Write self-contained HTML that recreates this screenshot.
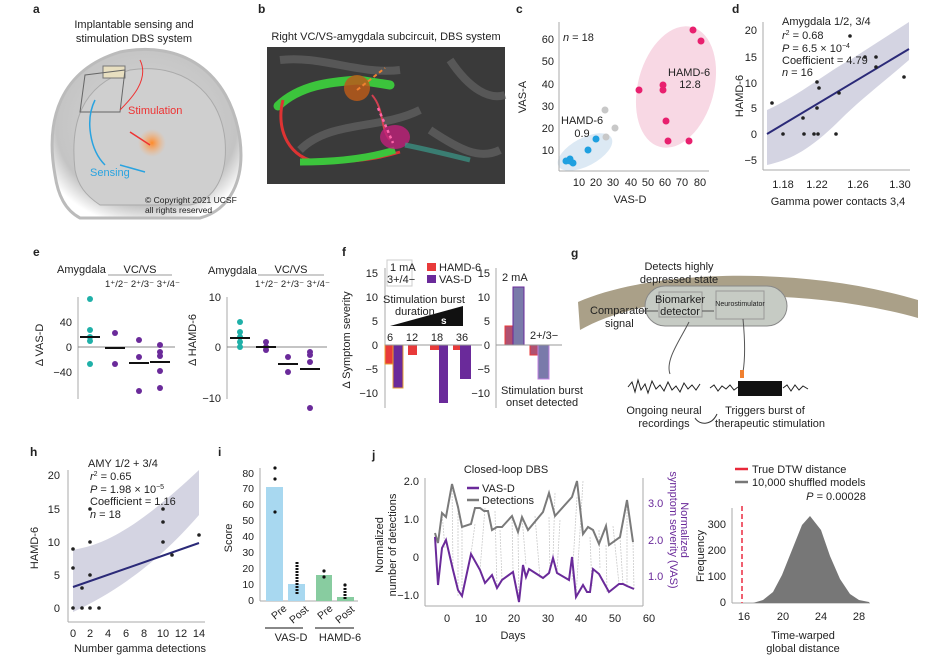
<!DOCTYPE html>
<html><head><meta charset="utf-8"><style>
html,body{margin:0;padding:0;background:#fff}
svg{display:block;font-family:"Liberation Sans",Arial,sans-serif}
</style></head><body>
<svg width="951" height="662" viewBox="0 0 951 662" xmlns="http://www.w3.org/2000/svg">
<defs>
<radialGradient id="hg" cx="0.5" cy="0.45" r="0.6"><stop offset="0" stop-color="#d8d8d8"/><stop offset="0.8" stop-color="#c4c4c4"/><stop offset="1" stop-color="#fff"/></radialGradient>
<radialGradient id="og" cx="0.5" cy="0.5" r="0.5"><stop offset="0" stop-color="#ff8a2a"/><stop offset="1" stop-color="#ffb070" stop-opacity="0"/></radialGradient>
</defs>
<g font-size="11" fill="#222">
<!-- panel a -->
<text x="33" y="13" font-weight="bold" font-size="12">a</text>
<text x="134" y="28" text-anchor="middle">Implantable sensing and</text>
<text x="134" y="42" text-anchor="middle">stimulation DBS system</text>
<path d="M55,175 C45,120 60,70 120,52 C180,40 230,70 240,140 C245,180 230,210 200,218 L80,218 C65,210 58,195 55,175Z" fill="url(#hg)" stroke="#bbb" stroke-width="3"/>
<path d="M75,170 C70,125 80,85 130,70 C180,62 220,90 225,140 C228,175 215,200 190,205 L100,205 C85,195 78,185 75,170Z" fill="#cfcfcf" stroke="#aaa"/>
<rect x="103" y="66" width="22" height="12" fill="#e8dfc0" stroke="#777"/>
<path d="M85,75 L125,70 L120,112 L80,112Z" fill="none" stroke="#666"/>
<circle cx="152" cy="143" r="14" fill="url(#og)"/>
<path d="M140,60 C150,80 130,100 120,110" stroke="#e33" fill="none"/>
<path d="M130,132 L150,145" stroke="#e33" stroke-width="1.5"/>
<path d="M95,100 C85,120 90,150 105,165" stroke="#29a3e0" fill="none" stroke-width="1.5"/>
<path d="M145,172 L120,165" stroke="#29a3e0" stroke-width="1.5"/>
<text x="128" y="114" fill="#e33">Stimulation</text>
<text x="90" y="176" fill="#29a3e0">Sensing</text>
<text x="145" y="203" font-size="8.5">© Copyright 2021 UCSF</text>
<text x="145" y="213" font-size="8.5">all rights reserved</text>
<!-- panel b -->
<text x="258" y="13" font-weight="bold" font-size="12">b</text>
<text x="386" y="40" text-anchor="middle">Right VC/VS-amygdala subcircuit, DBS system</text>
<rect x="267" y="47" width="238" height="137" fill="#3a3a3a"/>
<path d="M280,60 C320,55 360,75 400,70 M300,150 C330,120 380,130 420,110 M450,60 C470,90 490,100 505,95 M430,130 C460,150 480,160 500,150" stroke="#6a6a6a" stroke-width="8" fill="none" opacity="0.6"/>
<path d="M278,106 C300,85 330,82 358,80 L390,85" stroke="#3cc43c" stroke-width="9" fill="none" stroke-linecap="round"/>
<path d="M283,100 C275,130 290,160 320,162 C360,162 380,158 400,152" stroke="#dd3333" stroke-width="3" fill="none"/>
<path d="M300,162 C340,162 370,158 395,150" stroke="#3cc43c" stroke-width="7" fill="none"/>
<circle cx="357" cy="88" r="13" fill="#b85a1a" opacity="0.85"/>
<path d="M357,90 L385,68" stroke="#f08030" stroke-width="2" stroke-dasharray="4,3"/>
<path d="M372,95 C385,110 380,130 390,140" stroke="#d04050" stroke-width="2" fill="none"/>
<ellipse cx="395" cy="137" rx="15" ry="12" fill="#c0207a" opacity="0.8"/>
<path d="M378,108 L393,143" stroke="#ff66aa" stroke-width="2.5" stroke-dasharray="3,3"/>
<path d="M405,145 C430,150 450,155 470,160" stroke="#3a9a8a" stroke-width="5" fill="none" opacity="0.7"/>
<!-- panel c -->
<text x="516" y="13" font-weight="bold" font-size="12">c</text>
<ellipse cx="676" cy="87" rx="38" ry="62" fill="#f8d8e4" transform="rotate(15 676 87)"/>
<ellipse cx="585" cy="152" rx="30" ry="14" fill="#dce9f4" transform="rotate(-28 585 152)"/>
<line x1="559" y1="22" x2="559" y2="171" stroke="#aaa"/>
<line x1="559" y1="171" x2="709" y2="171" stroke="#aaa"/>
<g text-anchor="end"><text x="554" y="43">60</text><text x="554" y="65">50</text><text x="554" y="88">40</text><text x="554" y="110">30</text><text x="554" y="132">20</text><text x="554" y="154">10</text></g>
<g text-anchor="middle"><text x="579" y="186">10</text><text x="596" y="186">20</text><text x="613" y="186">30</text><text x="631" y="186">40</text><text x="648" y="186">50</text><text x="665" y="186">60</text><text x="682" y="186">70</text><text x="700" y="186">80</text></g>
<text x="630" y="203" text-anchor="middle">VAS-D</text>
<text transform="translate(526,97) rotate(-90)" text-anchor="middle">VAS-A</text>
<text x="563" y="41"><tspan font-style="italic">n</tspan> = 18</text>
<text x="668" y="76" text-anchor="start">HAMD-6</text><text x="690" y="88" text-anchor="middle">12.8</text>
<text x="561" y="124">HAMD-6</text><text x="582" y="137" text-anchor="middle">0.9</text>
<g fill="#e8206e"><circle cx="693" cy="30" r="3.5"/><circle cx="701" cy="41" r="3.5"/><circle cx="639" cy="90" r="3.5"/><circle cx="663" cy="85" r="3.5"/><circle cx="663" cy="90" r="3.5"/><circle cx="666" cy="121" r="3.5"/><circle cx="668" cy="141" r="3.5"/><circle cx="689" cy="141" r="3.5"/></g>
<g fill="#c8c8c8"><circle cx="605" cy="110" r="3.5"/><circle cx="615" cy="128" r="3.5"/><circle cx="606" cy="137" r="3.5"/></g>
<g fill="#1fa0e0"><circle cx="596" cy="139" r="3.5"/><circle cx="588" cy="150" r="3.5"/><circle cx="566" cy="161" r="3.5"/><circle cx="570" cy="159" r="3.5"/><circle cx="573" cy="163" r="3.5"/><circle cx="570" cy="161" r="3.5"/></g>
<!-- panel d -->
<text x="732" y="13" font-weight="bold" font-size="12">d</text>
<path d="M767,110 C800,95 830,70 850,60 L909,22 L909,60 C880,85 860,100 840,120 C810,150 790,160 767,165Z" fill="#d4d4e2"/>
<line x1="767" y1="134" x2="909" y2="49" stroke="#2b2a78" stroke-width="2"/>
<line x1="763" y1="22" x2="763" y2="170" stroke="#aaa"/><line x1="763" y1="170" x2="910" y2="170" stroke="#aaa"/>
<g text-anchor="end"><text x="757" y="34">20</text><text x="757" y="61">15</text><text x="757" y="87">10</text><text x="757" y="112">5</text><text x="757" y="138">0</text><text x="757" y="164">−5</text></g>
<g text-anchor="middle"><text x="783" y="188">1.18</text><text x="817" y="188">1.22</text><text x="858" y="188">1.26</text><text x="900" y="188">1.30</text></g>
<text x="838" y="205" text-anchor="middle">Gamma power contacts 3,4</text>
<text transform="translate(743,96) rotate(-90)" text-anchor="middle">HAMD-6</text>
<text x="782" y="25">Amygdala 1/2, 3/4</text>
<text x="782" y="39"><tspan font-style="italic">r</tspan><tspan font-size="7" dy="-4">2</tspan><tspan dy="4"> = 0.68</tspan></text>
<text x="782" y="52"><tspan font-style="italic">P</tspan> = 6.5 × 10<tspan font-size="7" dy="-4">−4</tspan></text>
<text x="782" y="64">Coefficient = 4.79</text>
<text x="782" y="76"><tspan font-style="italic">n</tspan> = 16</text>
<g fill="#222"><circle cx="772" cy="103" r="1.8"/><circle cx="783" cy="134" r="1.8"/><circle cx="803" cy="118" r="1.8"/><circle cx="804" cy="134" r="1.8"/><circle cx="814" cy="134" r="1.8"/><circle cx="818" cy="134" r="1.8"/><circle cx="817" cy="108" r="1.8"/><circle cx="817" cy="82" r="1.8"/><circle cx="819" cy="88" r="1.8"/><circle cx="836" cy="134" r="1.8"/><circle cx="839" cy="93" r="1.8"/><circle cx="850" cy="36" r="1.8"/><circle cx="865" cy="57" r="1.8"/><circle cx="876" cy="57" r="1.8"/><circle cx="876" cy="67" r="1.8"/><circle cx="904" cy="77" r="1.8"/></g>
<!-- panel e -->
<text x="33" y="256" font-weight="bold" font-size="12">e</text>
<text x="57" y="273">Amygdala</text><text x="140" y="273" text-anchor="middle">VC/VS</text>
<line x1="108" y1="275" x2="172" y2="275" stroke="#999"/>
<text x="105" y="287" font-size="9.5">1⁺/2⁻ 2⁺/3⁻ 3⁺/4⁻</text>
<line x1="78" y1="297" x2="78" y2="399" stroke="#aaa"/><line x1="78" y1="347" x2="175" y2="347" stroke="#888"/>
<g text-anchor="end"><text x="72" y="326">40</text><text x="72" y="351">0</text><text x="72" y="376">−40</text></g>
<text transform="translate(43,345) rotate(-90)" text-anchor="middle">Δ VAS-D</text>
<g fill="#1fb0a8"><circle cx="90" cy="299" r="3"/><circle cx="90" cy="330" r="3"/><circle cx="90" cy="337" r="3"/><circle cx="90" cy="341" r="3"/><circle cx="90" cy="364" r="3"/></g>
<g fill="#6a2a9a"><circle cx="115" cy="333" r="3"/><circle cx="115" cy="364" r="3"/><circle cx="139" cy="340" r="3"/><circle cx="139" cy="357" r="3"/><circle cx="139" cy="391" r="3"/><circle cx="160" cy="345" r="3"/><circle cx="160" cy="352" r="3"/><circle cx="160" cy="356" r="3"/><circle cx="160" cy="371" r="3"/><circle cx="160" cy="388" r="3"/></g>
<g stroke="#111" stroke-width="2"><line x1="80" y1="337" x2="100" y2="337"/><line x1="105" y1="348" x2="125" y2="348"/><line x1="129" y1="363" x2="149" y2="363"/><line x1="150" y1="362" x2="170" y2="362"/></g>
<text x="208" y="274">Amygdala</text><text x="291" y="273" text-anchor="middle">VC/VS</text>
<line x1="258" y1="275" x2="324" y2="275" stroke="#999"/>
<text x="255" y="287" font-size="9.5">1⁺/2⁻ 2⁺/3⁻ 3⁺/4⁻</text>
<line x1="227" y1="297" x2="227" y2="399" stroke="#aaa"/><line x1="227" y1="347" x2="327" y2="347" stroke="#888"/>
<g text-anchor="end"><text x="221" y="301">10</text><text x="221" y="351">0</text><text x="221" y="402">−10</text></g>
<text transform="translate(196,340) rotate(-90)" text-anchor="middle">Δ HAMD-6</text>
<g fill="#1fb0a8"><circle cx="240" cy="322" r="3"/><circle cx="240" cy="332" r="3"/><circle cx="240" cy="337" r="3"/><circle cx="240" cy="342" r="3"/><circle cx="240" cy="347" r="3"/></g>
<g fill="#6a2a9a"><circle cx="266" cy="342" r="3"/><circle cx="266" cy="347" r="3"/><circle cx="266" cy="350" r="3"/><circle cx="288" cy="357" r="3"/><circle cx="288" cy="372" r="3"/><circle cx="310" cy="352" r="3"/><circle cx="310" cy="355" r="3"/><circle cx="310" cy="362" r="3"/><circle cx="310" cy="408" r="3"/></g>
<g stroke="#111" stroke-width="2"><line x1="230" y1="338" x2="250" y2="338"/><line x1="256" y1="347" x2="276" y2="347"/><line x1="278" y1="364" x2="298" y2="364"/><line x1="300" y1="369" x2="320" y2="369"/></g>
<!-- panel f -->
<text x="342" y="256" font-weight="bold" font-size="12">f</text>
<line x1="385" y1="268" x2="385" y2="408" stroke="#aaa"/>
<g text-anchor="end"><text x="378" y="277">15</text><text x="378" y="301">10</text><text x="378" y="325">5</text><text x="378" y="349">0</text><text x="378" y="373">−5</text><text x="378" y="397">−10</text></g>
<text transform="translate(350,340) rotate(-90)" text-anchor="middle">Δ Symptom severity</text>
<rect x="385" y="345" width="8" height="19" fill="#e83a3a" stroke="#e8a030"/>
<rect x="393" y="345" width="10" height="43" fill="#6a2a9a" stroke="#e8a030"/>
<rect x="408" y="345" width="9" height="10" fill="#e83a3a"/>
<rect x="430" y="345" width="9" height="5" fill="#e83a3a"/>
<rect x="439" y="345" width="9" height="58" fill="#6a2a9a"/>
<rect x="453" y="345" width="7" height="5" fill="#e83a3a"/>
<rect x="460" y="345" width="11" height="34" fill="#6a2a9a"/>
<line x1="385" y1="345" x2="482" y2="345" stroke="#999"/>
<polygon points="390,326 463,306 463,326" fill="#111"/>
<text x="441" y="324" fill="#fff" font-size="10" font-weight="bold">s</text>
<text x="390" y="341" text-anchor="middle">6</text><text x="412" y="341" text-anchor="middle">12</text><text x="437" y="341" text-anchor="middle">18</text><text x="462" y="341" text-anchor="middle">36</text>
<text x="383" y="303">Stimulation burst</text><text x="395" y="315">duration</text>
<rect x="387" y="260" width="25" height="26" fill="none" stroke="#ccc"/>
<text x="390" y="271">1 mA</text><text x="387" y="283">3+/4−</text>
<rect x="427" y="263" width="9" height="8" fill="#e83a3a"/><text x="439" y="271">HAMD-6</text>
<rect x="427" y="275" width="9" height="8" fill="#6a2a9a"/><text x="439" y="283">VAS-D</text>
<line x1="496" y1="268" x2="496" y2="408" stroke="#aaa"/>
<g text-anchor="end"><text x="490" y="277">15</text><text x="490" y="301">10</text><text x="490" y="325">5</text><text x="490" y="349">0</text><text x="490" y="373">−5</text><text x="490" y="397">−10</text></g>
<rect x="505" y="326" width="8" height="19" fill="#b05070" stroke="#e83a3a"/>
<rect x="513" y="287" width="11" height="58" fill="#7a7aaa" stroke="#6a2a9a"/>
<rect x="530" y="345" width="8" height="10" fill="#b05070" stroke="#e83a3a"/>
<rect x="538" y="345" width="11" height="34" fill="#7a7aaa" stroke="#c080e0"/>
<line x1="496" y1="345" x2="562" y2="345" stroke="#999"/>
<text x="502" y="281">2 mA</text><text x="530" y="339">2+/3−</text>
<text x="501" y="394">Stimulation burst</text><text x="506" y="406">onset detected</text>
<!-- panel g -->
<text x="571" y="257" font-weight="bold" font-size="12">g</text>
<path d="M578,302 C650,270 800,265 918,300 L918,318 C800,285 650,290 580,330Z" fill="#aaa088"/>
<rect x="645" y="286" width="142" height="40" rx="20" fill="#c6cbc4" stroke="#888"/>
<rect x="659" y="292" width="43" height="25" fill="#c6cbc4" stroke="#999"/>
<rect x="716" y="291" width="48" height="28" fill="#c6cbc4" stroke="#999"/>
<text x="680" y="303" text-anchor="middle">Biomarker</text><text x="680" y="315" text-anchor="middle">detector</text>
<text x="740" y="306" text-anchor="middle" font-size="7">Neurostimulator</text>
<text x="679" y="270" text-anchor="middle">Detects highly</text><text x="679" y="283" text-anchor="middle">depressed state</text>
<text x="590" y="314">Comparator</text><text x="605" y="327">signal</text>
<path d="M640,311 L658,311 M702,311 L714,311 M689,322 C680,340 665,360 670,374 M743,319 C745,340 745,360 743,372" stroke="#555" fill="none"/>
<rect x="740" y="370" width="4" height="8" fill="#f08030"/>
<polyline points="628,387 632,382 635,392 638,380 641,390 645,384 648,393 652,381 656,389 660,385 664,391 668,382 672,390 676,386 680,392 684,383 688,389 692,385 696,390 700,384" stroke="#222" fill="none"/>
<polyline points="710,388 714,385 718,391 722,386 726,389 730,385 734,390 738,387" stroke="#222" fill="none"/>
<rect x="738" y="381" width="44" height="15" fill="#111"/>
<polyline points="783,388 787,385 791,391 795,385 799,390 803,386 808,389" stroke="#222" fill="none"/>
<text x="664" y="414" text-anchor="middle">Ongoing neural</text><text x="664" y="427" text-anchor="middle">recordings</text>
<text x="765" y="414" text-anchor="middle">Triggers burst of</text><text x="770" y="427" text-anchor="middle">therapeutic stimulation</text>
<path d="M717,414 C712,425 700,426 695,418" stroke="#333" fill="none"/>
<!-- panel h -->
<text x="30" y="456" font-weight="bold" font-size="12">h</text>
<path d="M73,550 C100,545 130,535 199,470 L199,515 C160,560 120,590 73,612Z" fill="#d4d4e2"/>
<line x1="73" y1="587" x2="199" y2="543" stroke="#2b2a78" stroke-width="2"/>
<line x1="68" y1="470" x2="68" y2="622" stroke="#aaa"/><line x1="68" y1="622" x2="205" y2="622" stroke="#aaa"/>
<g text-anchor="end"><text x="60" y="479">20</text><text x="60" y="513">15</text><text x="60" y="546">10</text><text x="60" y="579">5</text><text x="60" y="612">0</text></g>
<g text-anchor="middle"><text x="73" y="637">0</text><text x="90" y="637">2</text><text x="108" y="637">4</text><text x="126" y="637">6</text><text x="144" y="637">8</text><text x="163" y="637">10</text><text x="181" y="637">12</text><text x="199" y="637">14</text></g>
<text x="140" y="652" text-anchor="middle">Number gamma detections</text>
<text transform="translate(38,548) rotate(-90)" text-anchor="middle">HAMD-6</text>
<text x="88" y="467">AMY 1/2 + 3/4</text>
<text x="90" y="480"><tspan font-style="italic">r</tspan><tspan font-size="7" dy="-4">2</tspan><tspan dy="4"> = 0.65</tspan></text>
<text x="90" y="493"><tspan font-style="italic">P</tspan> = 1.98 × 10<tspan font-size="7" dy="-4">−5</tspan></text>
<text x="90" y="505">Coefficient = 1.16</text>
<text x="90" y="518"><tspan font-style="italic">n</tspan> = 18</text>
<g fill="#222"><circle cx="73" cy="549" r="1.8"/><circle cx="73" cy="568" r="1.8"/><circle cx="73" cy="608" r="1.8"/><circle cx="82" cy="588" r="1.8"/><circle cx="82" cy="608" r="1.8"/><circle cx="90" cy="509" r="1.8"/><circle cx="90" cy="542" r="1.8"/><circle cx="90" cy="575" r="1.8"/><circle cx="90" cy="608" r="1.8"/><circle cx="99" cy="608" r="1.8"/><circle cx="163" cy="509" r="1.8"/><circle cx="163" cy="522" r="1.8"/><circle cx="163" cy="542" r="1.8"/><circle cx="172" cy="555" r="1.8"/><circle cx="199" cy="535" r="1.8"/></g>
<!-- panel i -->
<text x="218" y="456" font-weight="bold" font-size="12">i</text>
<line x1="260" y1="468" x2="260" y2="601" stroke="#aaa"/><line x1="260" y1="601" x2="358" y2="601" stroke="#aaa"/>
<g text-anchor="end" font-size="10.5"><text x="254" y="477">80</text><text x="254" y="492">70</text><text x="254" y="508">60</text><text x="254" y="524">50</text><text x="254" y="540">40</text><text x="254" y="556">30</text><text x="254" y="572">20</text><text x="254" y="588">10</text><text x="254" y="604">0</text></g>
<text transform="translate(232,538) rotate(-90)" text-anchor="middle">Score</text>
<rect x="266" y="487" width="17" height="114" fill="#a8d8f0"/>
<rect x="288" y="584" width="17" height="17" fill="#a8d8f0"/>
<rect x="316" y="575" width="16" height="26" fill="#88cca0"/>
<rect x="337" y="597" width="17" height="4" fill="#88cca0"/>
<g fill="#111"><circle cx="275" cy="468" r="1.6"/><circle cx="275" cy="479" r="1.6"/><circle cx="275" cy="512" r="1.6"/><circle cx="324" cy="571" r="1.6"/><circle cx="324" cy="577" r="1.6"/><circle cx="345" cy="585" r="1.6"/></g>
<line x1="297" y1="562" x2="297" y2="595" stroke="#111" stroke-width="3" stroke-dasharray="2,1"/>
<line x1="345" y1="588" x2="345" y2="600" stroke="#111" stroke-width="3" stroke-dasharray="2,1"/>
<g font-size="10.5"><text transform="translate(275,620) rotate(-40)">Pre</text><text transform="translate(293,624) rotate(-40)">Post</text><text transform="translate(321,620) rotate(-40)">Pre</text><text transform="translate(339,624) rotate(-40)">Post</text></g>
<line x1="265" y1="628" x2="303" y2="628" stroke="#111"/><line x1="315" y1="628" x2="354" y2="628" stroke="#111"/>
<text x="291" y="641" text-anchor="middle">VAS-D</text><text x="340" y="641" text-anchor="middle">HAMD-6</text>
<!-- panel j -->
<text x="372" y="459" font-weight="bold" font-size="12">j</text>
<text x="506" y="473" text-anchor="middle">Closed-loop DBS</text>
<line x1="425" y1="478" x2="425" y2="606" stroke="#aaa"/><line x1="425" y1="606" x2="643" y2="606" stroke="#aaa"/><line x1="643" y1="478" x2="643" y2="606" stroke="#aaa"/>
<g text-anchor="end"><text x="419" y="485">2.0</text><text x="419" y="523">1.0</text><text x="419" y="561">0</text><text x="419" y="599">−1.0</text></g>
<g fill="#6a2a9a"><text x="648" y="507">3.0</text><text x="648" y="544">2.0</text><text x="648" y="580">1.0</text></g>
<g text-anchor="middle"><text x="447" y="622">0</text><text x="481" y="622">10</text><text x="514" y="622">20</text><text x="548" y="622">30</text><text x="581" y="622">40</text><text x="615" y="622">50</text><text x="649" y="622">60</text></g>
<text x="513" y="639" text-anchor="middle">Days</text>
<text transform="translate(383,545) rotate(-90)" text-anchor="middle">Normalized</text>
<text transform="translate(396,545) rotate(-90)" text-anchor="middle">number of detections</text>
<text transform="translate(681,530) rotate(90)" text-anchor="middle" fill="#6a2a9a">Normalized</text>
<text transform="translate(670,530) rotate(90)" text-anchor="middle" fill="#6a2a9a">symptom severity (VAS)</text>
<g stroke="#ccc" stroke-dasharray="2,1" stroke-width="0.8">
<line x1="435" y1="533" x2="435" y2="537"/><line x1="442" y1="513" x2="445" y2="548"/><line x1="452" y1="484" x2="453" y2="570"/><line x1="458" y1="507" x2="458" y2="596"/><line x1="462" y1="527" x2="462" y2="596"/><line x1="475" y1="524" x2="471" y2="554"/><line x1="485" y1="508" x2="480" y2="570"/><line x1="495" y1="511" x2="497" y2="588"/><line x1="500" y1="530" x2="502" y2="580"/><line x1="512" y1="516" x2="513" y2="571"/><line x1="518" y1="532" x2="519" y2="602"/><line x1="522" y1="517" x2="526" y2="565"/><line x1="535" y1="516" x2="540" y2="578"/><line x1="549" y1="517" x2="550" y2="573"/><line x1="555" y1="493" x2="553" y2="558"/><line x1="560" y1="520" x2="557" y2="573"/><line x1="577" y1="497" x2="572" y2="581"/><line x1="583" y1="481" x2="576" y2="597"/><line x1="590" y1="537" x2="592" y2="586"/><line x1="599" y1="530" x2="600" y2="569"/><line x1="606" y1="545" x2="607" y2="592"/><line x1="613" y1="526" x2="619" y2="584"/><line x1="620" y1="537" x2="623" y2="585"/><line x1="627" y1="500" x2="627" y2="587"/><line x1="633" y1="542" x2="634" y2="589"/>
</g>
<polyline fill="none" stroke="#7a7a7a" stroke-width="2" points="435,533 438,543 442,513 446,517 452,484 458,507 462,527 471,524 475,508 480,508 484,511 488,511 492,530 497,527 502,527 512,516 518,532 522,517 528,530 543,512 549,493 555,516 572,497 577,481 583,534 588,527 593,530 599,544 606,526 609,545 620,537 627,500 633,542"/>
<polyline fill="none" stroke="#6a2a9a" stroke-width="2" points="435,537 438,585 442,548 446,540 453,570 458,590 462,596 471,554 480,570 485,583 492,575 497,588 502,580 513,572 519,602 523,565 526,577 529,569 543,578 549,573 553,558 557,573 569,580 572,557 576,597 583,585 587,592 590,592 593,569 599,574 609,592 619,584 623,584 627,586 634,589"/>
<line x1="467" y1="488" x2="479" y2="488" stroke="#6a2a9a" stroke-width="2.5"/><text x="482" y="492">VAS-D</text>
<line x1="467" y1="500" x2="479" y2="500" stroke="#7a7a7a" stroke-width="2.5"/><text x="482" y="504">Detections</text>
<!-- histogram -->
<line x1="735" y1="469" x2="748" y2="469" stroke="#e8283a" stroke-width="2.5"/><text x="752" y="473">True DTW distance</text>
<line x1="735" y1="482" x2="748" y2="482" stroke="#777" stroke-width="2.5"/><text x="752" y="486">10,000 shuffled models</text>
<text x="836" y="500" text-anchor="middle"><tspan font-style="italic">P</tspan> = 0.00028</text>
<line x1="732" y1="508" x2="732" y2="603" stroke="#aaa"/><line x1="732" y1="603" x2="870" y2="603" stroke="#aaa"/>
<g text-anchor="end"><text x="726" y="528">300</text><text x="726" y="554">200</text><text x="726" y="580">100</text><text x="726" y="606">0</text></g>
<g text-anchor="middle"><text x="744" y="620">16</text><text x="783" y="620">20</text><text x="821" y="620">24</text><text x="859" y="620">28</text></g>
<text x="803" y="639" text-anchor="middle">Time-warped</text><text x="803" y="652" text-anchor="middle">global distance</text>
<text transform="translate(704,556) rotate(-90)" text-anchor="middle">Frequency</text>
<polygon fill="#777" points="753,603 763,600 773,592 782,575 792,550 802,525 810,516 821,530 830,556 840,579 850,594 859,600 869,602 869,603"/>
<line x1="742" y1="506" x2="742" y2="603" stroke="#f06070" stroke-width="2" stroke-dasharray="5,3"/>
</g>
</svg>
</body></html>
